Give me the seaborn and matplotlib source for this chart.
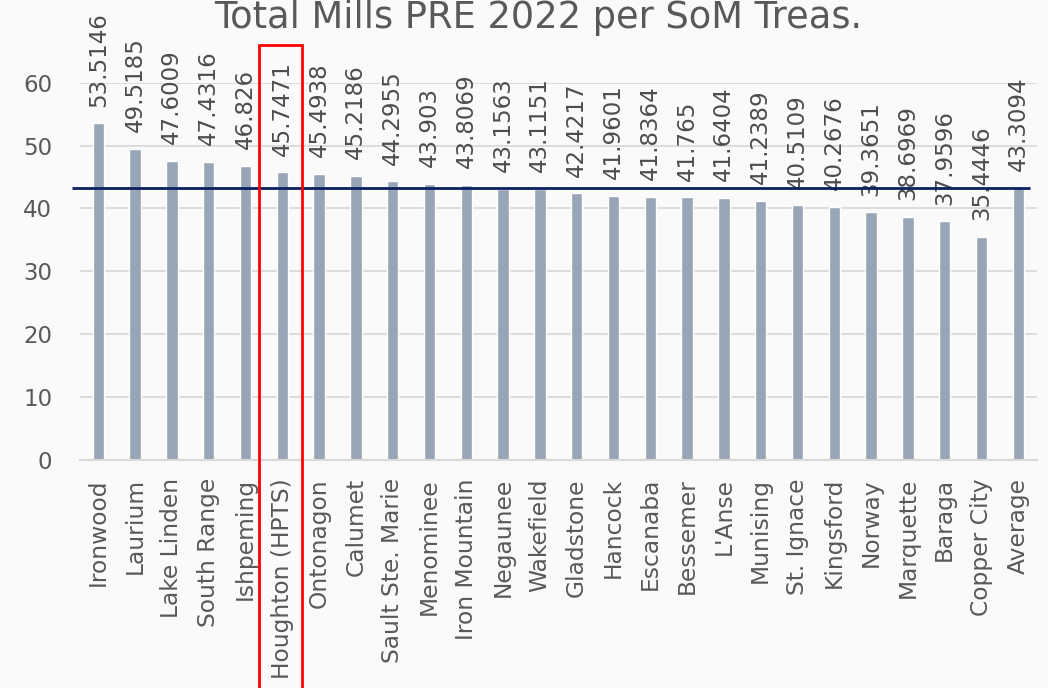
import matplotlib
matplotlib.use("Agg")
import matplotlib.pyplot as plt
import matplotlib.patches as mpatches
import seaborn as sns
import pandas as pd

categories = ["Ironwood", "Laurium", "Lake Linden", "South Range", "Ishpeming",
              "Houghton (HPTS)", "Ontonagon", "Calumet", "Sault Ste. Marie",
              "Menominee", "Iron Mountain", "Negaunee", "Wakefield", "Gladstone",
              "Hancock", "Escanaba", "Bessemer", "L'Anse", "Munising", "St. Ignace",
              "Kingsford", "Norway", "Marquette", "Baraga", "Copper City", "Average"]
mills = [53.5146, 49.5185, 47.6009, 47.4316, 46.826, 45.7471, 45.4938, 45.2186,
         44.2955, 43.903, 43.8069, 43.1563, 43.1151, 42.4217, 41.9601, 41.8364,
         41.765, 41.6404, 41.2389, 40.5109, 40.2676, 39.3651, 38.6969, 37.9596,
         35.4446, 43.3094]
average_value = 43.3094
highlight = "Houghton (HPTS)"
title = "Total Mills PRE 2022 per SoM Treas."
yticks = [0, 10, 20, 30, 40, 50, 60]

sns.set_theme(style="white")
plt.rcParams["font.family"] = ["DejaVu Sans"]

bg = "#fafafa"
fig = plt.figure(figsize=(10.48, 6.88), dpi=100, facecolor=bg)
ax = fig.add_axes([0.0762, 0.3314, 0.913, 0.5484])
ax.set_facecolor(bg)

df = pd.DataFrame({"cat": categories, "val": mills})
sns.barplot(data=df, x="cat", y="val", color="#97a5b6", saturation=1,
            width=0.31, ax=ax, zorder=2)

ax.set_xlim(-0.5, len(categories) - 0.5)
ax.set_ylim(0, 60)
ax.set_yticks(yticks)
ax.grid(axis="y", color="#d9d9d9", linewidth=1.3, zorder=0)
ax.set_axisbelow(True)
for s in ["top", "right", "left"]:
    ax.spines[s].set_visible(False)
ax.spines["bottom"].set_color("#d9d9d9")
ax.spines["bottom"].set_linewidth(1.5)
ax.set_xlabel("")
ax.set_ylabel("")
ax.tick_params(axis="y", length=0, pad=20, labelsize=16.5, labelcolor="#595959")
ax.tick_params(axis="x", length=0, pad=13, labelsize=16.8, labelcolor="#595959")
ax.set_xticks(range(len(categories)))
ax.set_xticklabels(categories, rotation=90, ha="center", va="top")

# value labels
for i, v in enumerate(mills):
    ax.annotate(str(v), (i, v), xytext=(0, 12), textcoords="offset points",
                rotation=90, ha="center", va="bottom", fontsize=16.5,
                color="#4d4d4d", annotation_clip=False)

# average line
ax.hlines(average_value, -0.715, len(categories) - 1 + 0.32, color="#0b2060",
          linewidth=2, zorder=3, clip_on=False)

# highlight rectangle
hi = categories.index(highlight)
rect = mpatches.Rectangle((hi - 0.63, -40), 1.16, 40 + 66.05, fill=False,
                          edgecolor="#ff0000", linewidth=2, clip_on=False, zorder=5)
ax.add_patch(rect)

fig.text(0.5134, 1 - 28 / 688, title, ha="center", va="baseline",
         fontsize=26.5, color="#595959")

fig.savefig("out.png", dpi=100, facecolor=bg)
